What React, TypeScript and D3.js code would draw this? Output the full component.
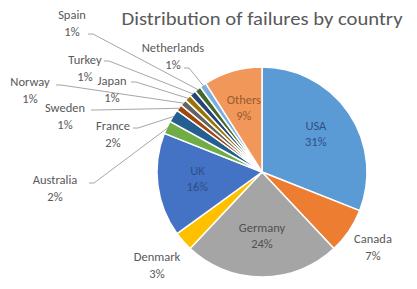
import * as d3 from 'd3'
import React from 'react'

const countries = ['USA', 'Canada', 'Germany', 'Denmark', 'UK', 'Australia', 'France', 'Sweden', 'Norway', 'Japan', 'Turkey', 'Spain', 'Netherlands', 'Others']
const shares = [31, 7, 24, 3, 16, 2, 2, 1, 1, 1, 1, 1, 1, 9]
const sliceColors = ['#5b9bd5', '#ed7d31', '#a5a5a5', '#ffc000', '#4472c4', '#70ad47', '#255e91', '#9e480e', '#636363', '#997300', '#264478', '#43682b', '#7cafdd', '#f1975a']
const title = 'Distribution of failures by country'

// label placement (layout only): [text x, first line y, leader start x, leader start y]
const outsideLabels: Record<string, number[]> = {
  Canada: [373, 243],
  Denmark: [157, 261],
  Australia: [55, 184, 89, 183],
  France: [113, 130, 133, 128],
  Sweden: [65, 112, 91, 110],
  Norway: [30, 86, 56, 85],
  Japan: [112, 85, 131, 82],
  Turkey: [85, 64, 104, 61],
  Spain: [72, 19, 88, 34],
  Netherlands: [173, 52, 184, 68],
}

const App = () => {
  const width = 417
  const height = 289
  const cx = 262
  const cy = 172
  const radius = 105

  const pie = d3.pie<number>().sort(null).value(d => d)
  const arcs = pie(shares)
  const arc = d3.arc<d3.PieArcDatum<number>>().innerRadius(0).outerRadius(radius)
  const labelArc = d3.arc<d3.PieArcDatum<number>>().innerRadius(radius * 0.62).outerRadius(radius * 0.62)
  const edgeArc = d3.arc<d3.PieArcDatum<number>>().innerRadius(radius - 1).outerRadius(radius - 1)

  const font = 'Calibri, Carlito, "Open Sans", "Liberation Sans", sans-serif'
  const textColor = '#595959'

  return (
    <svg width={width} height={height} style={{ position: 'absolute', left: 0, top: 0, background: '#fff' }}>
      <text x={262} y={25} textAnchor="middle" fontFamily={font} fontSize={19} fill={textColor} textLength={281} lengthAdjust="spacingAndGlyphs">{title}</text>
      <g transform={`translate(${cx},${cy})`}>
        {arcs.map((a, i) => (
          <path key={countries[i]} d={arc(a) || ''} fill={sliceColors[i]} stroke="#fff" strokeWidth={1.5} />
        ))}
      </g>
      {arcs.map((a, i) => {
        const name = countries[i]
        const pct = shares[i] + '%'
        const lay = outsideLabels[name]
        if (!lay) {
          const [lx, ly] = labelArc.centroid(a)
          const fill = name === 'Others' ? '#9a5a2e' : name === 'Germany' ? '#505050' : '#2f4f86'
          return (
            <text key={name} x={cx + lx} y={cy + ly - 5} textAnchor="middle" fontFamily={font} fontSize={12.5} fill={fill}>
              <tspan x={cx + lx}>{name}</tspan>
              <tspan x={cx + lx} dy={16}>{pct}</tspan>
            </text>
          )
        }
        const [tx, ty, sx, sy] = lay
        let leader = null
        if (sx !== undefined) {
          const [ex, ey] = edgeArc.centroid(a)
          leader = (
            <polyline points={`${sx},${sy} ${sx + 5},${sy} ${cx + ex},${cy + ey}`} fill="none" stroke="#a6a6a6" strokeWidth={1} />
          )
        }
        return (
          <g key={name}>
            {leader}
            <text x={tx} y={ty} textAnchor="middle" fontFamily={font} fontSize={12.5} fill={textColor}>
              <tspan x={tx}>{name}</tspan>
              <tspan x={tx} dy={17}>{pct}</tspan>
            </text>
          </g>
        )
      })}
    </svg>
  )
}

export default App
